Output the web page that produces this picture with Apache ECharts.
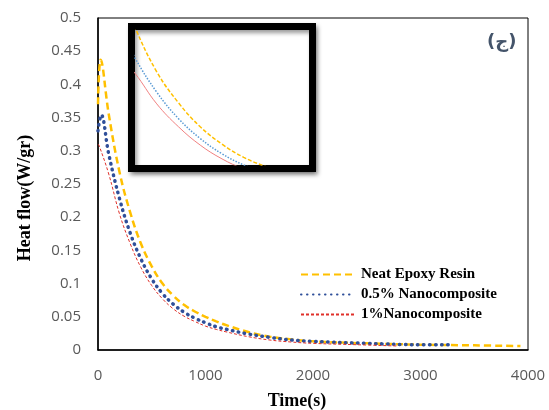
<!DOCTYPE html>
<html>
<head>
<meta charset="utf-8">
<script src="https://cdn.jsdelivr.net/npm/echarts@6/dist/echarts.min.js"></script>
<style>
  html, body { margin: 0; padding: 0; background: #fff; }
  #chart { width: 549px; height: 410px; }
</style>
</head>
<body>
<div id="chart"></div>
<script>
// values
var neatTime = [0, 25, 100, 200, 300, 400, 500, 600, 700, 800, 900, 1000, 1100, 1200, 1400, 1600, 1800, 2000, 2500, 3000, 3500, 3930];
var neatFlow = [0.37, 0.437, 0.355, 0.268, 0.207, 0.16, 0.126, 0.1, 0.082, 0.068, 0.058, 0.05, 0.043, 0.037, 0.027, 0.02, 0.016, 0.013, 0.01, 0.008, 0.007, 0.006];

var nano05Time = [0, 30, 100, 200, 300, 400, 500, 600, 700, 800, 900, 1000, 1100, 1200, 1400, 1600, 1800, 2000, 2500, 3000, 3270];
var nano05Flow = [0.33, 0.354, 0.295, 0.228, 0.176, 0.137, 0.107, 0.085, 0.069, 0.057, 0.048, 0.041, 0.035, 0.031, 0.024, 0.019, 0.015, 0.013, 0.01, 0.008, 0.008];

var nano1Time = [0, 10, 100, 200, 300, 400, 500, 600, 700, 800, 900, 1000, 1100, 1200, 1400, 1600, 1800, 2000, 2400, 2790];
var nano1Flow = [0.31, 0.308, 0.265, 0.205, 0.16, 0.124, 0.097, 0.077, 0.062, 0.051, 0.043, 0.036, 0.031, 0.027, 0.02, 0.015, 0.012, 0.01, 0.008, 0.006];

var yTicks = [0, 0.05, 0.1, 0.15, 0.2, 0.25, 0.3, 0.35, 0.4, 0.45, 0.5];
var xTicks = [0, 1000, 2000, 3000, 4000];

var names = ['Neat Epoxy Resin', '0.5% Nanocomposite', '1%Nanocomposite'];

function pairs(t, v) {
  var out = [];
  for (var i = 0; i < t.length; i++) out.push([t[i], v[i]]);
  return out;
}

var chart = echarts.init(document.getElementById('chart'));

var labelFont = { color: '#595959', fontSize: 15, fontFamily: 'Open Sans' };
var titleFont = { fontFamily: 'Liberation Serif', fontWeight: 'bold', fontSize: 18, fill: '#000' };

var option = {
  animation: false,
  backgroundColor: '#fff',
  grid: [
    { left: 98, right: 21, top: 18, bottom: 60, show: true, borderColor: '#000', borderWidth: 1 },
    { left: 135, top: 30, width: 174, height: 135, show: false }
  ],
  xAxis: [
    {
      type: 'value', gridIndex: 0,
      min: xTicks[0], max: xTicks[xTicks.length - 1], interval: 1000,
      axisLine: { lineStyle: { color: '#000', width: 1.5 } },
      axisTick: { show: false },
      splitLine: { show: false },
      axisLabel: Object.assign({ margin: 18, formatter: function (v) { return String(v); } }, labelFont)
    },
    { type: 'value', gridIndex: 1, min: 100, max: 900, show: false }
  ],
  yAxis: [
    {
      type: 'value', gridIndex: 0,
      min: yTicks[0], max: yTicks[yTicks.length - 1], interval: 0.05,
      axisLine: { show: true, lineStyle: { color: '#000', width: 1.5 } },
      axisTick: { show: false },
      splitLine: { show: false },
      axisLabel: Object.assign({ margin: 17 }, labelFont)
    },
    { type: 'value', gridIndex: 1, min: 0.085, max: 0.35, show: false }
  ],
  legend: {
    data: names,
    orient: 'vertical',
    left: 300, top: 267, padding: 0,
    itemWidth: 54, itemHeight: 12, itemGap: 5,
    itemStyle: { opacity: 0 },
    textStyle: { fontFamily: 'Liberation Serif', fontWeight: 'bold', fontSize: 15, color: '#000', padding: [0, 0, 0, 1] }
  },
  graphic: [
    {
      type: 'rect', z: 1,
      shape: { x: 131.5, y: 26.5, width: 181, height: 142 },
      style: { fill: '#fff', stroke: '#000', lineWidth: 7, shadowBlur: 4, shadowOffsetX: 2, shadowOffsetY: 3, shadowColor: 'rgba(0,0,0,0.4)' }
    },
    {
      type: 'text', left: 487, top: 33, z: 5,
      style: { text: '(ج)', fontSize: 18, fontWeight: 'bold', fontFamily: 'DejaVu Sans', fill: '#44546a' }
    },
    {
      type: 'text', x: 25, y: 198, rotation: Math.PI / 2, z: 5,
      style: Object.assign({ text: 'Heat flow(W/gr)', align: 'center', verticalAlign: 'middle' }, titleFont)
    },
    {
      type: 'text', x: 297, y: 401, z: 5,
      style: Object.assign({ text: 'Time(s)', align: 'center', verticalAlign: 'middle' }, titleFont)
    }
  ],
  series: [
    {
      name: names[0], type: 'line', xAxisIndex: 0, yAxisIndex: 0, smooth: 0.4, symbol: 'none',
      lineStyle: { color: '#ffc000', width: 2.5, type: [7, 4] },
      itemStyle: { color: '#ffc000' },
      data: pairs(neatTime, neatFlow)
    },
    {
      name: names[1], type: 'line', xAxisIndex: 0, yAxisIndex: 0, smooth: 0.4, symbol: 'none',
      lineStyle: { color: '#2f4f9a', width: 3.5, type: [0.5, 5.5], cap: 'round' },
      itemStyle: { color: '#2f4f9a' },
      data: pairs(nano05Time, nano05Flow)
    },
    {
      name: names[2], type: 'line', xAxisIndex: 0, yAxisIndex: 0, smooth: 0.4, symbol: 'none',
      lineStyle: { color: '#e0302a', width: 1, type: [3, 2] },
      itemStyle: { color: '#e0302a' },
      data: pairs(nano1Time, nano1Flow)
    },
    // zoomed copy inside the inset
    {
      name: 'inset neat', type: 'line', xAxisIndex: 1, yAxisIndex: 1, smooth: 0.4, symbol: 'none', z: 3,
      lineStyle: { color: '#ffc000', width: 1.5, type: [4, 2] },
      data: pairs(neatTime, neatFlow)
    },
    {
      name: 'inset 0.5', type: 'line', xAxisIndex: 1, yAxisIndex: 1, smooth: 0.4, symbol: 'none', z: 3,
      lineStyle: { color: '#5b9bd5', width: 1.5, type: [1.5, 1.5] },
      data: pairs(nano05Time, nano05Flow)
    },
    {
      name: 'inset 1', type: 'line', xAxisIndex: 1, yAxisIndex: 1, smooth: 0.4, symbol: 'none', z: 3,
      lineStyle: { color: '#f08080', width: 1 },
      data: pairs(nano1Time, nano1Flow)
    }
  ]
};

chart.setOption(option);
</script>
</body>
</html>
